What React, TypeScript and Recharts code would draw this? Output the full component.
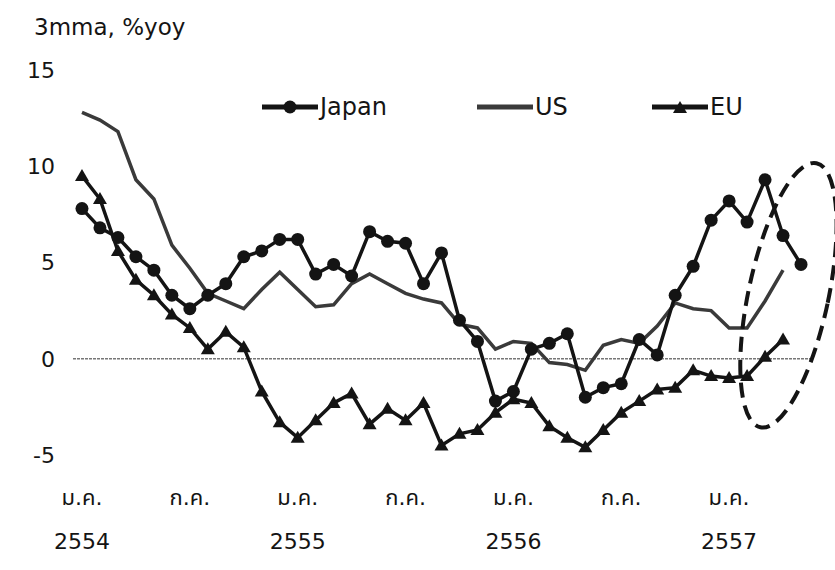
import React from 'react';
import { LineChart, Line, XAxis, YAxis, ReferenceLine, ReferenceDot } from 'recharts';

// month index, 0 = ม.ค. 2554
const months = Array.from({ length: 41 }, (_, i) => i);

const japan = [
  7.8, 6.8, 6.3, 5.3, 4.6, 3.3, 2.6, 3.3, 3.9, 5.3, 5.6, 6.2,
  6.2, 4.4, 4.9, 4.3, 6.6, 6.1, 6.0, 3.9, 5.5, 2.0, 0.9, -2.2,
  -1.7, 0.5, 0.8, 1.3, -2.0, -1.5, -1.3, 1.0, 0.2, 3.3, 4.8, 7.2,
  8.2, 7.1, 9.3, 6.4, 4.9,
];
const us = [
  12.8, 12.4, 11.8, 9.3, 8.3, 5.9, 4.7, 3.4, 3.0, 2.6, 3.6, 4.5,
  3.6, 2.7, 2.8, 3.9, 4.4, 3.9, 3.4, 3.1, 2.9, 1.8, 1.6, 0.5,
  0.9, 0.8, -0.2, -0.3, -0.6, 0.7, 1.0, 0.8, 1.7, 2.9, 2.6, 2.5,
  1.6, 1.6, 3.0, 4.6, null,
];
const eu = [
  9.5, 8.3, 5.6, 4.1, 3.3, 2.3, 1.6, 0.5, 1.4, 0.6, -1.7, -3.3,
  -4.1, -3.2, -2.3, -1.8, -3.4, -2.6, -3.2, -2.3, -4.5, -3.9, -3.7, -2.8,
  -2.1, -2.3, -3.5, -4.1, -4.6, -3.7, -2.8, -2.2, -1.6, -1.5, -0.6, -0.9,
  -1.0, -0.9, 0.1, 1.0, null,
];

const tickMonths = [0, 6, 12, 18, 24, 30, 36];
const tickMonthNames = ['ม.ค.', 'ก.ค.', 'ม.ค.', 'ก.ค.', 'ม.ค.', 'ก.ค.', 'ม.ค.'];
const tickYears = ['2554', '', '2555', '', '2556', '', '2557'];
const yTicks = [-5, 0, 5, 10, 15];

const data = months.map((m, i) => ({ m, japan: japan[i], us: us[i], eu: eu[i] }));

const FONT = "'DejaVu Sans', Tahoma, 'Noto Sans Thai', sans-serif";
const INK = '#141414';

const XTick = ({ x, y, payload }: any) => {
  const i = tickMonths.indexOf(payload.value);
  return (
    <text x={x} y={y} textAnchor="middle" fontSize={22} fill={INK} fontFamily={FONT}>
      <tspan x={x} dy={50}>{tickMonthNames[i]}</tspan>
      <tspan x={x} dy={44}>{tickYears[i]}</tspan>
    </text>
  );
};

const JapanDot = (props: any) => {
  const { cx, cy, index } = props;
  if (cx == null || cy == null) return <g key={`j-${index}`} />;
  return <circle key={`j-${index}`} cx={cx} cy={cy} r={6.5} fill={INK} />;
};

const EuDot = (props: any) => {
  const { cx, cy, index } = props;
  if (cx == null || cy == null) return <g key={`e-${index}`} />;
  return (
    <polygon
      key={`e-${index}`}
      points={`${cx},${cy - 7} ${cx - 7},${cy + 5} ${cx + 7},${cy + 5}`}
      fill={INK}
    />
  );
};

// dashed oval around the latest readings
const Oval = (props: any) => (
  <ellipse
    cx={props.cx}
    cy={props.cy}
    rx={40}
    ry={135}
    transform={`rotate(12 ${props.cx} ${props.cy})`}
    fill="none"
    stroke={INK}
    strokeWidth={4}
    strokeDasharray="15 8"
  />
);

const LegendIcon = ({ kind }: { kind: string }) => (
  <svg width={56} height={16} style={{ display: 'block' }}>
    <line x1={0} y1={8} x2={56} y2={8} stroke={kind === 'us' ? '#3a3a3a' : INK} strokeWidth={5} />
    {kind === 'japan' && <circle cx={28} cy={8} r={6.5} fill={INK} />}
    {kind === 'eu' && <polygon points="28,2 21,14 35,14" fill={INK} />}
  </svg>
);

const legendItems = [
  { kind: 'japan', name: 'Japan', left: 262 },
  { kind: 'us', name: 'US', left: 477 },
  { kind: 'eu', name: 'EU', left: 652 },
];

export default function App() {
  return (
    <div style={{ position: 'absolute', left: 0, top: 0, width: 835, height: 570, background: '#fff', fontFamily: FONT, color: INK }}>
      <LineChart width={835} height={570} data={data} margin={{ top: 70, right: 25, bottom: 35, left: 0 }}>
        <XAxis
          dataKey="m"
          type="number"
          domain={[-0.5, 40.5]}
          ticks={tickMonths}
          interval={0}
          axisLine={false}
          tickLine={false}
          tickSize={0}
          tickMargin={0}
          height={80}
          tick={<XTick />}
        />
        <YAxis
          type="number"
          domain={[-5, 15]}
          ticks={yTicks}
          interval={0}
          axisLine={false}
          tickLine={false}
          tickSize={0}
          tickMargin={18}
          width={73}
          tick={{ fontSize: 22, fill: INK, fontFamily: FONT }}
        />
        <ReferenceLine y={0} stroke="#777" strokeWidth={1.5} strokeDasharray="3 1" />
        <Line dataKey="us" stroke="#3a3a3a" strokeWidth={3.5} dot={false} isAnimationActive={false} />
        <Line dataKey="eu" stroke={INK} strokeWidth={3.5} dot={EuDot} isAnimationActive={false} />
        <Line dataKey="japan" stroke={INK} strokeWidth={3.5} dot={JapanDot} isAnimationActive={false} />
        <ReferenceDot x={39.3} y={3.3} ifOverflow="visible" shape={Oval} />
      </LineChart>
      <div style={{ position: 'absolute', left: 34, top: 14, fontSize: 23 }}>3mma, %yoy</div>
      {legendItems.map((it) => (
        <div key={it.kind} style={{ position: 'absolute', left: it.left, top: 93, display: 'flex', alignItems: 'center', fontSize: 24 }}>
          <LegendIcon kind={it.kind} />
          <span style={{ marginLeft: 2 }}>{it.name}</span>
        </div>
      ))}
    </div>
  );
}
